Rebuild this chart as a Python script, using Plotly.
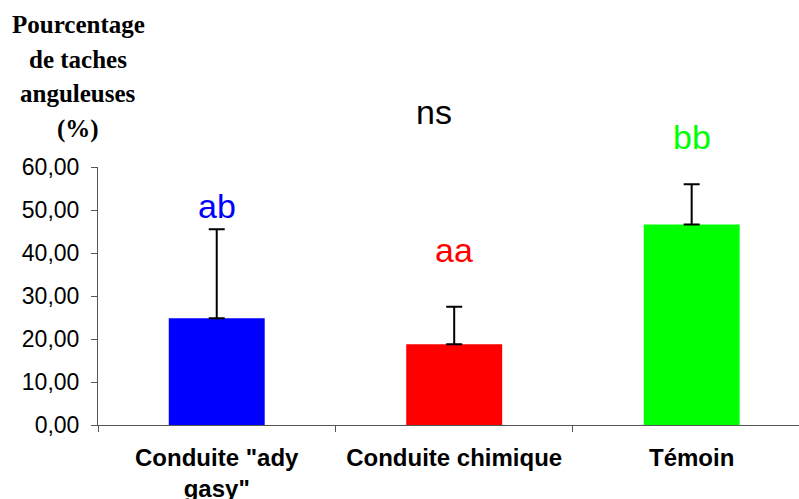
import plotly.graph_objects as go

# Treatments and measured percentages of angular leaf spots
categories = ['Conduite "ady<br>gasy"', "Conduite chimique", "Témoin"]
means = [24.8, 18.8, 46.6]
errors = [20.7, 8.7, 9.4]
colors = ["#0000FF", "#FF0000", "#00FF00"]

# Significance letters and their height on the value scale
letters = ["ab", "aa", "bb"]
letter_y = [51.0, 40.7, 66.9]
overall_label = "ns"
overall_pos = (0.917, 72.7)

y_max = 60
y_ticks = [0, 10, 20, 30, 40, 50, 60]
y_tick_text = ["0,00", "10,00", "20,00", "30,00", "40,00", "50,00", "60,00"]

title_lines = ["Pourcentage", "de taches", "anguleuses", "(%)"]

W, H = 799, 499
ml, mr, mt, mb = 98, 0, 167, 74
pw, ph = W - ml - mr, H - mt - mb

fig = go.Figure()
fig.add_trace(go.Bar(
    x=categories,
    y=means,
    marker=dict(color=colors, line=dict(width=0)),
    width=0.404,
    error_y=dict(type="data", array=errors, symmetric=False,
                 arrayminus=[0, 0, 0], color="black", thickness=2, width=8),
))

letter_font = "Liberation Sans, Arial"
# letters are placed in paper units so they may sit above the axis range
for i, (lab, ly, col) in enumerate(zip(letters, letter_y, colors)):
    fig.add_annotation(x=i, y=ly / y_max, xref="x", yref="paper", text=lab,
                       showarrow=False,
                       font=dict(family=letter_font, size=34, color=col),
                       xanchor="center", yanchor="middle")

fig.add_annotation(x=overall_pos[0], y=overall_pos[1] / y_max, xref="x", yref="paper",
                   text=overall_label, showarrow=False,
                   font=dict(family=letter_font, size=34, color="black"),
                   xanchor="center", yanchor="middle")

# stacked axis title in the top-left corner (pixel positions -> paper units)
for k, line in enumerate(title_lines):
    px, py = 78, 25 + 34.5 * k
    fig.add_annotation(x=(px - ml) / pw, y=1 - (py - mt) / ph,
                       xref="paper", yref="paper",
                       text="<b>%s</b>" % line, showarrow=False,
                       font=dict(family="Liberation Serif, Times New Roman", size=25, color="black"),
                       xanchor="center", yanchor="middle")

fig.update_layout(
    width=W, height=H,
    margin=dict(l=ml, r=mr, t=mt, b=mb, pad=0, autoexpand=False),
    plot_bgcolor="white", paper_bgcolor="white",
    showlegend=False,
    xaxis=dict(
        type="category", range=[-0.5, 2.452], automargin=False,
        showline=True, linecolor="#555555", linewidth=1,
        ticks="outside", ticklen=6, tickcolor="#555555", tickson="boundaries",
        tickfont=dict(family="Liberation Sans, Arial", size=24, color="black"),
        tickprefix="<b>", ticksuffix="</b>",
        ticklabelstandoff=11,
        showgrid=False, zeroline=False,
    ),
    yaxis=dict(
        range=[0, y_max], automargin=False,
        tickvals=y_ticks, ticktext=y_tick_text,
        showline=True, linecolor="#555555", linewidth=1,
        ticks="outside", ticklen=6, tickcolor="#555555",
        tickfont=dict(family="Liberation Sans, Arial", size=23, color="black"),
        ticklabelstandoff=7,
        showgrid=False, zeroline=False,
    ),
)

fig.write_html("out.html")
